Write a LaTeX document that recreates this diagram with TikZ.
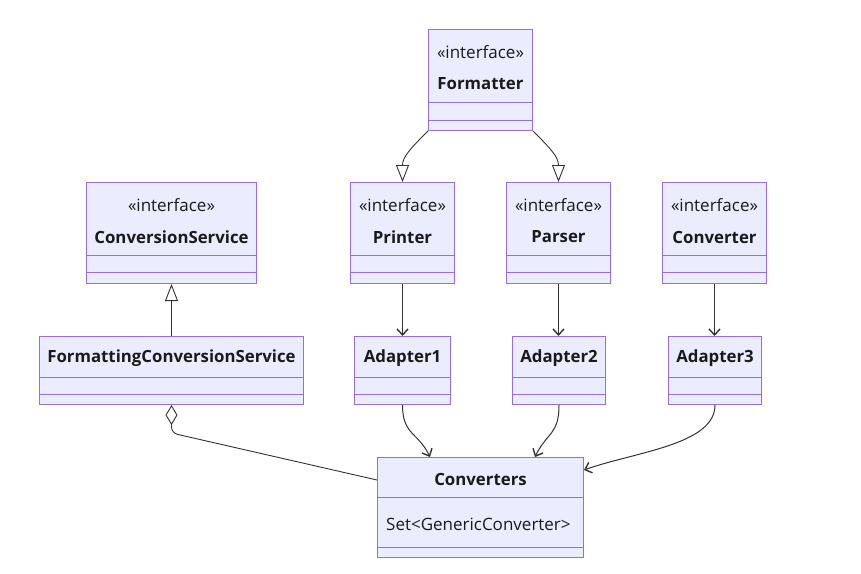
\documentclass[tikz,border=0pt]{standalone}
\usepackage{fontspec}
\setmainfont{Open Sans}
\usetikzlibrary{arrows.meta,positioning,calc}
\definecolor{ClassFill}{HTML}{ECECFF}
\definecolor{ClassLine}{HTML}{9370DB}
\definecolor{Wire}{HTML}{333333}
\definecolor{Ink}{HTML}{1A1A1A}

\begin{document}
\begin{tikzpicture}[x=1pt,y=-1pt,every node/.style={font=\fontsize{17}{19}\selectfont,text=Ink,inner sep=0pt},classbox/.style={draw=ClassLine,fill=ClassFill,line width=1pt,anchor=north west},divider/.style={draw=ClassLine,line width=1pt},classname/.style={font=\fontsize{16.8}{19}\selectfont\bfseries},inherit/.style={-{Triangle[open,length=17pt,width=13pt]},draw=Wire,line width=.9pt},uses/.style={-{Straight Barb[length=6pt,width=11pt,line width=1.4pt]},draw=Wire,line width=1pt},aggregate/.style={{Diamond[open,length=20pt,width=12pt]}-,draw=Wire,line width=.9pt}]
\fill[white] (0,0) rectangle (861,573);
\useasboundingbox (0,0) rectangle (861,573);
\newcommand{\classbox}[6]{\node[classbox,minimum width=#3,minimum height=#4+#5+#6](#1) at (#2){};\draw[divider] ($(#1.north west)+(0,#4)$)--($(#1.north east)+(0,#4)$);\draw[divider] ($(#1.south west)+(0,-#6)$)--($(#1.south east)+(0,-#6)$);}
\newcommand{\iface}[2]{\node (#1-st) at ($(#1.north)+(0,23)$){«interface»};\node[classname] (#1-nm) at ($(#1.north)+(0,55)$){#2};}
\newcommand{\plain}[2]{\node[classname] (#1-nm) at ($(#1.north)+(0,22)$){#2};}
% interfaces
\classbox{formatter}{428,29}{104}{73}{17}{11}
\iface{formatter}{Formatter}
\classbox{convservice}{86,182}{170}{73}{16}{12}
\iface{convservice}{ConversionService}
\classbox{printer}{350,182}{104}{73}{16}{12}
\iface{printer}{Printer}
\classbox{parser}{506,182}{104}{73}{16}{12}
\iface{parser}{Parser}
\classbox{converter}{662,182}{104}{73}{16}{12}
\iface{converter}{Converter}
% implementations
\classbox{fcs}{39,336}{264}{41}{16}{11}
\plain{fcs}{FormattingConversionService}
\classbox{adapter1}{354,336}{96}{41}{16}{11}
\plain{adapter1}{Adapter1}
\classbox{adapter2}{512,336}{93}{41}{16}{11}
\plain{adapter2}{Adapter2}
\classbox{adapter3}{668,336}{93}{41}{16}{11}
\plain{adapter3}{Adapter3}
\classbox{converters}{377,457}{206}{40}{49}{11}
\plain{converters}{Converters}
\node[anchor=west] (converters-at) at ($(converters.north west)+(9,67)$){Set<GenericConverter>};
% relations
\draw[inherit] (formatter.south west) .. controls +(-18,18) and +(0,-25) .. (printer.north);
\draw[inherit] (formatter.south east) .. controls +(18,18) and +(0,-25) .. (parser.north);
\draw[inherit] (fcs.north)--(convservice.south);
\draw[uses] (printer.south)--(printer.south|-adapter1.north);
\draw[uses] (parser.south)--(parser.south|-adapter2.north);
\draw[uses] (converter.south)--(converter.south|-adapter3.north);
\draw[uses] (adapter1.south) .. controls +(0,30) and +(-12,-25) .. ($(converters.north west)+(53,0)$);
\draw[uses] (adapter2.south) .. controls +(0,30) and +(12,-25) .. ($(converters.north west)+(158,0)$);
\draw[uses] (adapter3.south) .. controls +(0,40) and +(50,-18) .. ($(converters.north east)+(0,13)$);
\draw[aggregate,rounded corners=6pt] (fcs.south)--++(0,28)--($(converters.north west)+(0,23)$);
\end{tikzpicture}
\end{document}
